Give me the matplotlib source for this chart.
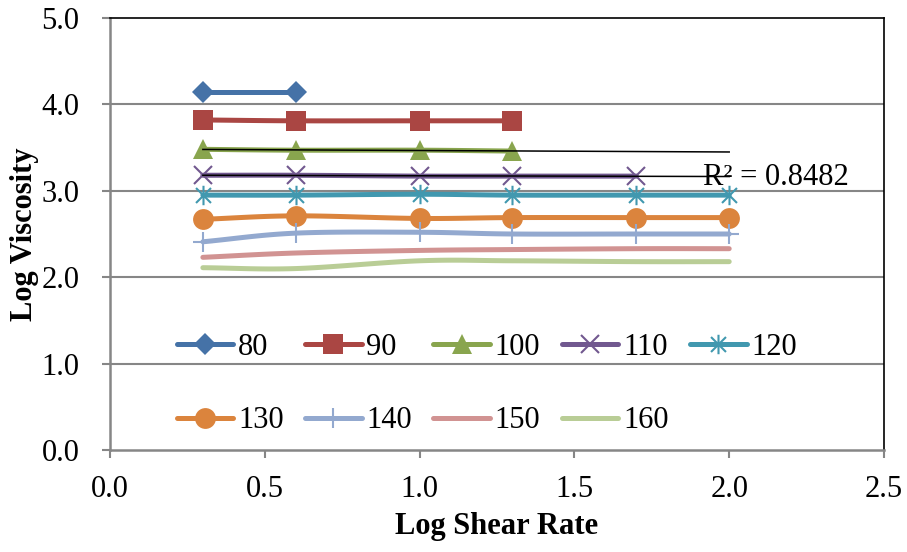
import numpy as np
import matplotlib
matplotlib.use('Agg')
from matplotlib import pyplot as plt
from matplotlib.path import Path

plt.rcParams['font.family'] = ['Liberation Serif', 'DejaVu Serif']

# data
shear = [0.3, 0.6, 1.0, 1.3, 1.7, 2.0]
temps = ['80', '90', '100', '110', '120', '130', '140', '150', '160']
visc = {
    '80':  [4.14, 4.14],
    '90':  [3.82, 3.81, 3.81, 3.81],
    '100': [3.48, 3.47, 3.47, 3.46],
    '110': [3.18, 3.18, 3.17, 3.17, 3.17],
    '120': [2.95, 2.95, 2.96, 2.95, 2.95, 2.95],
    '130': [2.67, 2.71, 2.68, 2.69, 2.69, 2.69],
    '140': [2.41, 2.51, 2.52, 2.50, 2.50, 2.50],
    '150': [2.23, 2.28, 2.31, 2.32, 2.33, 2.33],
    '160': [2.11, 2.10, 2.19, 2.19, 2.18, 2.18],
}
r2_text = 'R² = 0.8482'

colors = ['#4572A7', '#AA4643', '#89A54E', '#71588F', '#4198AF',
          '#DB843D', '#93A9CF', '#D19392', '#B9CD96']

asterisk = Path([(-1, -1), (1, 1), (-1, 1), (1, -1), (0, -1.3), (0, 1.3)],
                [Path.MOVETO, Path.LINETO, Path.MOVETO, Path.LINETO, Path.MOVETO, Path.LINETO])
markers = [('D', 11, 0), ('s', 14, 0), ('^', 14, 0), ('x', 13, 1.5), (asterisk, 14, 1.5),
           ('o', 15, 0), ('+', 15, 1.5), (None, 0, 0), (None, 0, 0)]


def smooth(x, y, n=24):
    # catmull-rom curve through the points, like Excel's smoothed line
    x = np.asarray(x, float)
    y = np.asarray(y, float)
    if len(x) < 3:
        return x, y
    px = np.concatenate([[2 * x[0] - x[1]], x, [2 * x[-1] - x[-2]]])
    py = np.concatenate([[2 * y[0] - y[1]], y, [2 * y[-1] - y[-2]]])
    xs, ys = [], []
    for i in range(1, len(px) - 2):
        t = np.linspace(0, 1, n, endpoint=False)
        for arr, out in ((px, xs), (py, ys)):
            p0, p1, p2, p3 = arr[i - 1], arr[i], arr[i + 1], arr[i + 2]
            out.extend(0.5 * ((2 * p1) + (-p0 + p2) * t + (2 * p0 - 5 * p1 + 4 * p2 - p3) * t ** 2
                              + (-p0 + 3 * p1 - 3 * p2 + p3) * t ** 3))
    xs.append(x[-1])
    ys.append(y[-1])
    return np.array(xs), np.array(ys)


fig = plt.figure(figsize=(9.07, 5.52), dpi=100)
ax = fig.add_axes([110 / 907, 1 - 450 / 552, 774 / 907, 432 / 552])

for gy in [1, 2, 3, 4]:
    ax.axhline(gy, color='#868686', lw=1.5, zorder=1)

handles = []
for i, t in enumerate(temps):
    ys = visc[t]
    xs = shear[:len(ys)]
    sx, sy = smooth(xs, ys)
    ax.plot(sx, sy, color=colors[i], lw=3.6, solid_capstyle='round', zorder=3)
    m, ms, mew = markers[i]
    if m is not None:
        ax.plot(xs, ys, ls='none', marker=m, ms=ms, mew=mew, color=colors[i],
                mec=colors[i], zorder=4)
    # legend proxy
    h, = ax.plot([], [], color=colors[i], lw=3.6, solid_capstyle='round',
                 marker=m, ms=ms, mew=mew, mec=colors[i], label=t)
    handles.append(h)

# linear trendlines for 100 and 110, forecast forward to 2.0
for t in ['100', '110']:
    ys = visc[t]
    xs = shear[:len(ys)]
    k, b = np.polyfit(xs, ys, 1)
    xt = np.array([xs[0], 2.0])
    ax.plot(xt, k * xt + b, color='black', lw=1.1, zorder=5)

ax.text(1.915, 3.15, r2_text, fontsize=22, va='center', ha='left', zorder=6)

ax.set_xlim(0, 2.5)
ax.set_ylim(0, 5)
ax.set_xticks(np.arange(0, 2.51, 0.5))
ax.set_yticks(np.arange(0, 5.01, 1.0))
ax.set_xticklabels([f'{v:.1f}' for v in np.arange(0, 2.51, 0.5)])
ax.set_yticklabels([f'{v:.1f}' for v in np.arange(0, 5.01, 1.0)])
ax.tick_params(labelsize=22, length=6, width=1.5, color='#868686', pad=12)
ax.tick_params(axis='y', pad=16)

for s in ['left', 'bottom']:
    ax.spines[s].set_color('#868686')
    ax.spines[s].set_linewidth(1.8)
for s in ['top', 'right']:
    ax.spines[s].set_color('black')
    ax.spines[s].set_linewidth(1.2)

ax.set_xlabel('Log Shear Rate', fontsize=22, fontweight='bold', labelpad=6)
ax.set_ylabel('Log Viscosity', fontsize=22, fontweight='bold', labelpad=2)

# legend filled row by row: 5 across, then 4
order = [0, 5, 1, 6, 2, 7, 3, 8, 4]
ax.legend([handles[j] for j in order], [temps[j] for j in order],
          ncol=5, loc='upper left', bbox_to_anchor=(0.086, 0.271), frameon=False,
          fontsize=22, handlelength=1.85, handletextpad=0.16, columnspacing=0.7,
          labelspacing=1.45, borderpad=0, borderaxespad=0)

fig.savefig('out.png', dpi=100)
